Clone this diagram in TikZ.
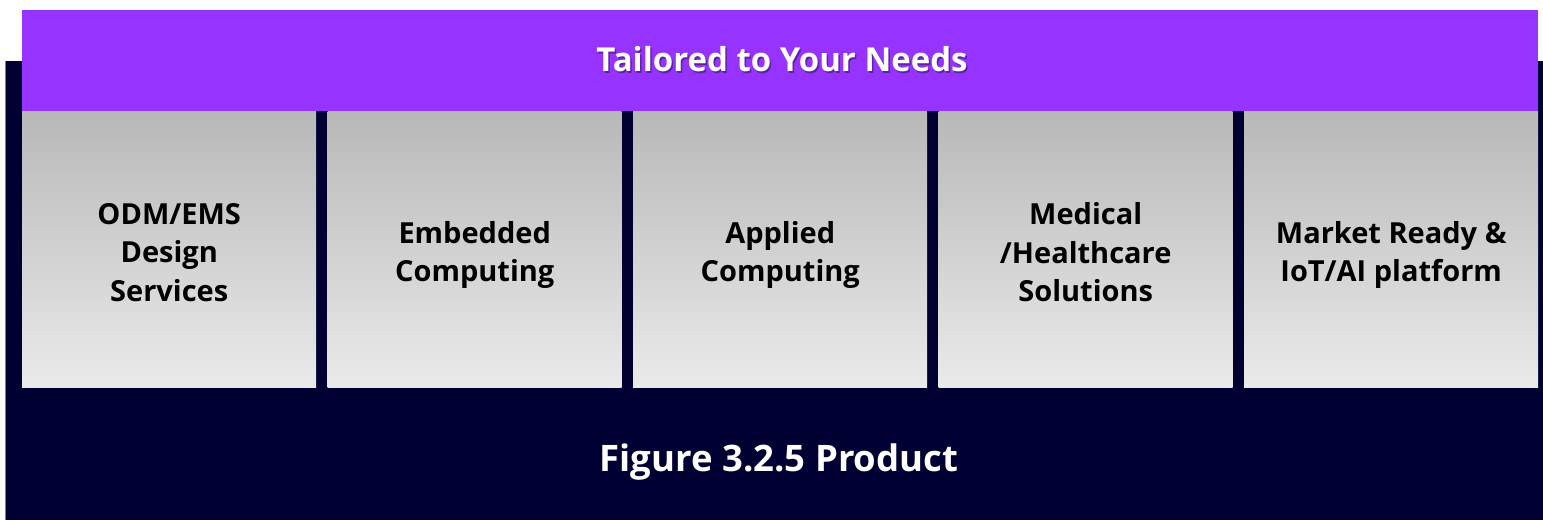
\documentclass[tikz,border=0pt]{standalone}
\usepackage{fontspec}
\setmainfont{Open Sans}
\usetikzlibrary{positioning}
\definecolor{navy}{HTML}{000033}
\definecolor{purp}{HTML}{9633FF}
\definecolor{gtop}{HTML}{B8B8B8}
\definecolor{gbot}{HTML}{EAEAEA}
\tikzset{
  card/.style={rectangle, minimum width=294pt, minimum height=276pt, inner sep=0pt,
    top color=gtop, bottom color=gbot, draw=none, anchor=north west},
  cardtext/.style={font=\bfseries\fontsize{29}{38.5}\selectfont, text=black, align=center},
  headtext/.style={font=\bfseries\fontsize{33}{38}\selectfont, text=white},
}
\begin{document}
\begin{tikzpicture}[x=1pt,y=-1pt]
\useasboundingbox (0,0) rectangle (1543,520);
\fill[white] (0,0) rectangle (1543,520);
% navy background panel
\fill[navy] (5,61) rectangle (1543,520);
\draw[gray, line width=1pt] (5.5,61) -- (5.5,520);
% purple header
\node (head) [rectangle, fill=purp, minimum width=1516pt, minimum height=101pt, inner sep=0pt, anchor=north west] at (22,10) {};
\node (headshadow) [headtext, text=black, opacity=0.35] at (783.5,61) {Tailored to Your Needs};
\node (headlabel) [headtext] at (782,59) {Tailored to Your Needs};
% cards
\node (c1) [card] at (22,111) {};
\node (c2) [card] at (327.5,111) {};
\node (c3) [card] at (633,111) {};
\node (c4) [card] at (938.5,111) {};
\node (c5) [card] at (1244,111) {};
\node (t1) [cardtext] at ([yshift=-3pt]c1.center) {ODM/EMS\\Design\\Services};
\node (t2) [cardtext] at ([yshift=-6pt]c2.center) {Embedded\\Computing};
\node (t3) [cardtext] at ([yshift=-6pt]c3.center) {Applied\\Computing};
\node (t4) [cardtext] at ([yshift=-3pt]c4.center) {Medical\\/Healthcare\\Solutions};
\node (t5) [cardtext] at ([yshift=-6pt]c5.center) {Market Ready \&\\IoT/AI platform};
% caption
\node (cap) [font=\bfseries\fontsize{36.5}{42}\selectfont, text=white] at (779,462) {Figure 3.2.5 Product};
\end{tikzpicture}
\end{document}
